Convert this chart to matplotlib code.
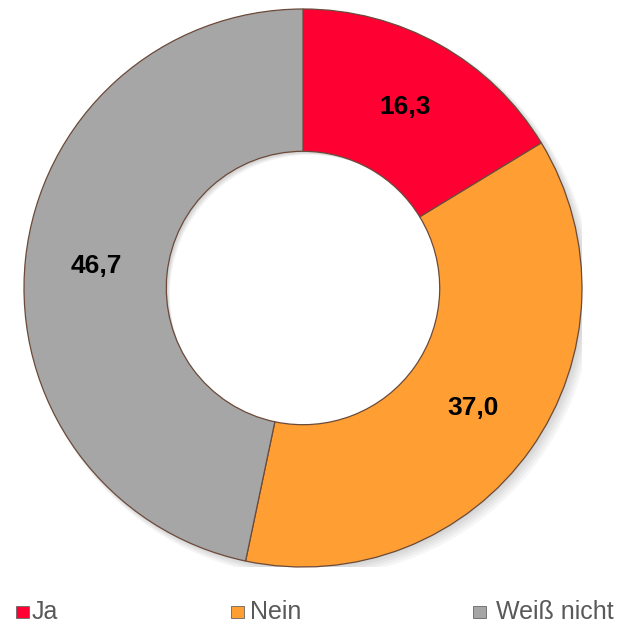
import matplotlib
matplotlib.use("Agg")
import matplotlib.pyplot as plt
from matplotlib.patches import Rectangle, Wedge
import numpy as np

categories = ["Ja", "Nein", "Weiß nicht"]
values = [16.3, 37.0, 46.7]
value_labels = ["16,3", "37,0", "46,7"]
colors = ["#FF0033", "#FF9F33", "#A6A6A6"]

W, H = 619, 624
fig = plt.figure(figsize=(W / 100, H / 100), dpi=100)
cx, cy, R = 303, 288, 279
ax = fig.add_axes([(cx - R) / W, (H - cy - R) / H, 2 * R / W, 2 * R / H])
ax.set_aspect("equal")
ax.axis("off")

# soft shadow
for i in range(5):
    off = 0.005 * (i + 1)
    ax.add_patch(Wedge((off, -off), 1.0 + 0.003 * i, 0, 360, width=0.51,
                       facecolor="black", alpha=0.035, edgecolor="none", zorder=0))

wedges, _ = ax.pie(values, colors=colors, startangle=90, counterclock=False,
                   radius=1.0, wedgeprops=dict(width=0.51, edgecolor="#6b4a3a", linewidth=0.9),
                   center=(0, 0), frame=False)
for w in wedges:
    w.set_zorder(2)
ax.set_xlim(-1, 1)
ax.set_ylim(-1, 1)

start = 90.0
for v, lab in zip(values, value_labels):
    ang = np.deg2rad(start - v / 100 * 360 / 2)
    r = 0.745
    ax.text(r * np.cos(ang), r * np.sin(ang), lab, ha="center", va="center",
            fontsize=19, fontweight="bold", color="black", zorder=3,
            family="Liberation Sans")
    start -= v / 100 * 360

# legend
sq_x = [16, 231, 473]
txt_x = [32, 250, 496]
leg_y = 612
for sx, tx, c, name in zip(sq_x, txt_x, colors, categories):
    fig.patches.append(Rectangle((sx / W, (H - leg_y - 6) / H), 13 / W, 12 / H,
                                 transform=fig.transFigure, facecolor=c,
                                 edgecolor="#666666", linewidth=0.6))
    fig.text(tx / W, (H - leg_y) / H, name, ha="left", va="center",
             fontsize=18, color="#595959", family="Liberation Sans")

fig.savefig("out.png", dpi=100)
